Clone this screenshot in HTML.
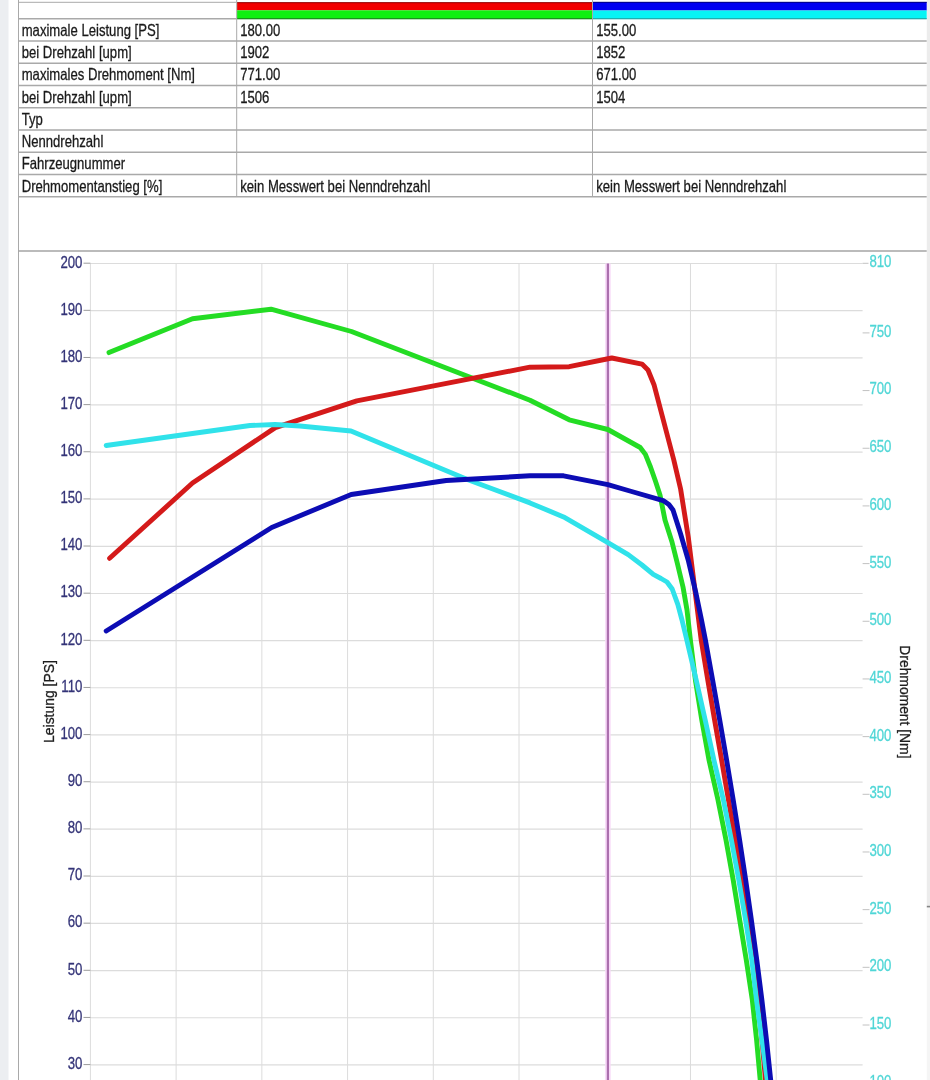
<!DOCTYPE html>
<html><head><meta charset="utf-8"><style>
html,body{margin:0;padding:0;background:#fff;width:930px;height:1080px;overflow:hidden}
svg{display:block;will-change:transform}
text{font-family:"Liberation Sans", sans-serif}
</style></head><body>
<svg width="930" height="1080" viewBox="0 0 930 1080">
<rect x="0" y="0" width="930" height="1080" fill="#fff"/>
<rect x="0" y="0" width="8.5" height="1080" fill="#eceef1"/>
<rect x="926.8" y="0" width="3.2" height="906" fill="#ececec"/>
<rect x="926.8" y="906" width="3.2" height="174" fill="#f5f5f5"/>
<rect x="926.8" y="905.8" width="3.2" height="1.6" fill="#858585"/>

<rect x="237" y="2.5" width="355.5" height="7.8" fill="#f20000"/>
<rect x="237" y="10.3" width="355.5" height="8.6" fill="#10f010"/>
<rect x="237" y="18.1" width="355.5" height="1.2" fill="#1a8a1a"/>
<rect x="593" y="2" width="333.7" height="8.5" fill="#0000f0"/>
<rect x="593" y="10.5" width="333.7" height="8.4" fill="#08f4f4"/>
<rect x="593" y="18.1" width="333.7" height="1.2" fill="#20a8a8"/>
<line x1="18.5" y1="2.3" x2="236.5" y2="2.3" stroke="#a9a9a9" stroke-width="1"/>
<line x1="237" y1="2.7" x2="592.5" y2="2.7" stroke="#900000" stroke-width="1"/>
<line x1="593" y1="2.3" x2="926.7" y2="2.3" stroke="#000080" stroke-width="1"/>
<line x1="18.5" y1="18.70" x2="236.7" y2="18.70" stroke="#a9a9a9" stroke-width="1.5"/>
<line x1="18.5" y1="40.95" x2="926.7" y2="40.95" stroke="#a9a9a9" stroke-width="1.5"/>
<line x1="18.5" y1="63.20" x2="926.7" y2="63.20" stroke="#a9a9a9" stroke-width="1.5"/>
<line x1="18.5" y1="85.45" x2="926.7" y2="85.45" stroke="#a9a9a9" stroke-width="1.5"/>
<line x1="18.5" y1="107.70" x2="926.7" y2="107.70" stroke="#a9a9a9" stroke-width="1.5"/>
<line x1="18.5" y1="129.95" x2="926.7" y2="129.95" stroke="#a9a9a9" stroke-width="1.5"/>
<line x1="18.5" y1="152.20" x2="926.7" y2="152.20" stroke="#a9a9a9" stroke-width="1.5"/>
<line x1="18.5" y1="174.45" x2="926.7" y2="174.45" stroke="#a9a9a9" stroke-width="1.5"/>
<line x1="18.5" y1="196.70" x2="926.7" y2="196.70" stroke="#a9a9a9" stroke-width="1.5"/>
<line x1="18.5" y1="0" x2="18.5" y2="1080" stroke="#a9a9a9" stroke-width="1"/>
<line x1="236.7" y1="0" x2="236.7" y2="196.7" stroke="#a9a9a9" stroke-width="1"/>
<line x1="592.5" y1="0" x2="592.5" y2="196.7" stroke="#a9a9a9" stroke-width="1"/>
<line x1="18.5" y1="251" x2="926.7" y2="251" stroke="#a4a4a4" stroke-width="1.5"/>
<text transform="translate(21.70,35.80) scale(0.795,1)" font-size="16.5" fill="#1a1a1a" stroke="#1a1a1a" stroke-width="0.3" text-anchor="start">maximale Leistung [PS]</text>
<text transform="translate(240.20,35.80) scale(0.795,1)" font-size="16.5" fill="#1a1a1a" stroke="#1a1a1a" stroke-width="0.3" text-anchor="start">180.00</text>
<text transform="translate(596.20,35.80) scale(0.795,1)" font-size="16.5" fill="#1a1a1a" stroke="#1a1a1a" stroke-width="0.3" text-anchor="start">155.00</text>
<text transform="translate(21.70,58.05) scale(0.795,1)" font-size="16.5" fill="#1a1a1a" stroke="#1a1a1a" stroke-width="0.3" text-anchor="start">bei Drehzahl [upm]</text>
<text transform="translate(240.20,58.05) scale(0.795,1)" font-size="16.5" fill="#1a1a1a" stroke="#1a1a1a" stroke-width="0.3" text-anchor="start">1902</text>
<text transform="translate(596.20,58.05) scale(0.795,1)" font-size="16.5" fill="#1a1a1a" stroke="#1a1a1a" stroke-width="0.3" text-anchor="start">1852</text>
<text transform="translate(21.70,80.30) scale(0.795,1)" font-size="16.5" fill="#1a1a1a" stroke="#1a1a1a" stroke-width="0.3" text-anchor="start">maximales Drehmoment [Nm]</text>
<text transform="translate(240.20,80.30) scale(0.795,1)" font-size="16.5" fill="#1a1a1a" stroke="#1a1a1a" stroke-width="0.3" text-anchor="start">771.00</text>
<text transform="translate(596.20,80.30) scale(0.795,1)" font-size="16.5" fill="#1a1a1a" stroke="#1a1a1a" stroke-width="0.3" text-anchor="start">671.00</text>
<text transform="translate(21.70,102.55) scale(0.795,1)" font-size="16.5" fill="#1a1a1a" stroke="#1a1a1a" stroke-width="0.3" text-anchor="start">bei Drehzahl [upm]</text>
<text transform="translate(240.20,102.55) scale(0.795,1)" font-size="16.5" fill="#1a1a1a" stroke="#1a1a1a" stroke-width="0.3" text-anchor="start">1506</text>
<text transform="translate(596.20,102.55) scale(0.795,1)" font-size="16.5" fill="#1a1a1a" stroke="#1a1a1a" stroke-width="0.3" text-anchor="start">1504</text>
<text transform="translate(21.70,124.80) scale(0.795,1)" font-size="16.5" fill="#1a1a1a" stroke="#1a1a1a" stroke-width="0.3" text-anchor="start">Typ</text>
<text transform="translate(21.70,147.05) scale(0.795,1)" font-size="16.5" fill="#1a1a1a" stroke="#1a1a1a" stroke-width="0.3" text-anchor="start">Nenndrehzahl</text>
<text transform="translate(21.70,169.30) scale(0.795,1)" font-size="16.5" fill="#1a1a1a" stroke="#1a1a1a" stroke-width="0.3" text-anchor="start">Fahrzeugnummer</text>
<text transform="translate(21.70,191.55) scale(0.795,1)" font-size="16.5" fill="#1a1a1a" stroke="#1a1a1a" stroke-width="0.3" text-anchor="start">Drehmomentanstieg [%]</text>
<text transform="translate(240.20,191.55) scale(0.795,1)" font-size="16.5" fill="#1a1a1a" stroke="#1a1a1a" stroke-width="0.3" text-anchor="start">kein Messwert bei Nenndrehzahl</text>
<text transform="translate(596.20,191.55) scale(0.795,1)" font-size="16.5" fill="#1a1a1a" stroke="#1a1a1a" stroke-width="0.3" text-anchor="start">kein Messwert bei Nenndrehzahl</text>
<line x1="90.4" y1="263.50" x2="862.6" y2="263.50" stroke="#dcdcdc" stroke-width="1.2"/>
<line x1="90.4" y1="310.64" x2="862.6" y2="310.64" stroke="#dcdcdc" stroke-width="1.2"/>
<line x1="90.4" y1="357.78" x2="862.6" y2="357.78" stroke="#dcdcdc" stroke-width="1.2"/>
<line x1="90.4" y1="404.92" x2="862.6" y2="404.92" stroke="#dcdcdc" stroke-width="1.2"/>
<line x1="90.4" y1="452.06" x2="862.6" y2="452.06" stroke="#dcdcdc" stroke-width="1.2"/>
<line x1="90.4" y1="499.20" x2="862.6" y2="499.20" stroke="#dcdcdc" stroke-width="1.2"/>
<line x1="90.4" y1="546.34" x2="862.6" y2="546.34" stroke="#dcdcdc" stroke-width="1.2"/>
<line x1="90.4" y1="593.48" x2="862.6" y2="593.48" stroke="#dcdcdc" stroke-width="1.2"/>
<line x1="90.4" y1="640.62" x2="862.6" y2="640.62" stroke="#dcdcdc" stroke-width="1.2"/>
<line x1="90.4" y1="687.76" x2="862.6" y2="687.76" stroke="#dcdcdc" stroke-width="1.2"/>
<line x1="90.4" y1="734.90" x2="862.6" y2="734.90" stroke="#dcdcdc" stroke-width="1.2"/>
<line x1="90.4" y1="782.04" x2="862.6" y2="782.04" stroke="#dcdcdc" stroke-width="1.2"/>
<line x1="90.4" y1="829.18" x2="862.6" y2="829.18" stroke="#dcdcdc" stroke-width="1.2"/>
<line x1="90.4" y1="876.32" x2="862.6" y2="876.32" stroke="#dcdcdc" stroke-width="1.2"/>
<line x1="90.4" y1="923.46" x2="862.6" y2="923.46" stroke="#dcdcdc" stroke-width="1.2"/>
<line x1="90.4" y1="970.60" x2="862.6" y2="970.60" stroke="#dcdcdc" stroke-width="1.2"/>
<line x1="90.4" y1="1017.74" x2="862.6" y2="1017.74" stroke="#dcdcdc" stroke-width="1.2"/>
<line x1="90.4" y1="1064.88" x2="862.6" y2="1064.88" stroke="#dcdcdc" stroke-width="1.2"/>
<line x1="90.40" y1="263.2" x2="90.40" y2="1080" stroke="#dcdcdc" stroke-width="1"/>
<line x1="176.12" y1="263.2" x2="176.12" y2="1080" stroke="#dcdcdc" stroke-width="1"/>
<line x1="261.85" y1="263.2" x2="261.85" y2="1080" stroke="#dcdcdc" stroke-width="1"/>
<line x1="347.57" y1="263.2" x2="347.57" y2="1080" stroke="#dcdcdc" stroke-width="1"/>
<line x1="433.30" y1="263.2" x2="433.30" y2="1080" stroke="#dcdcdc" stroke-width="1"/>
<line x1="519.02" y1="263.2" x2="519.02" y2="1080" stroke="#dcdcdc" stroke-width="1"/>
<line x1="690.47" y1="263.2" x2="690.47" y2="1080" stroke="#dcdcdc" stroke-width="1"/>
<line x1="776.20" y1="263.2" x2="776.20" y2="1080" stroke="#dcdcdc" stroke-width="1"/>
<line x1="83.5" y1="263.20" x2="90.4" y2="263.20" stroke="#9c9c9c" stroke-width="1"/>
<text transform="translate(82.40,267.50) scale(0.825,1)" font-size="16" fill="#343478" stroke="#343478" stroke-width="0.3" text-anchor="end">200</text>
<line x1="83.5" y1="310.34" x2="90.4" y2="310.34" stroke="#9c9c9c" stroke-width="1"/>
<text transform="translate(82.40,314.64) scale(0.825,1)" font-size="16" fill="#343478" stroke="#343478" stroke-width="0.3" text-anchor="end">190</text>
<line x1="83.5" y1="357.48" x2="90.4" y2="357.48" stroke="#9c9c9c" stroke-width="1"/>
<text transform="translate(82.40,361.78) scale(0.825,1)" font-size="16" fill="#343478" stroke="#343478" stroke-width="0.3" text-anchor="end">180</text>
<line x1="83.5" y1="404.62" x2="90.4" y2="404.62" stroke="#9c9c9c" stroke-width="1"/>
<text transform="translate(82.40,408.92) scale(0.825,1)" font-size="16" fill="#343478" stroke="#343478" stroke-width="0.3" text-anchor="end">170</text>
<line x1="83.5" y1="451.76" x2="90.4" y2="451.76" stroke="#9c9c9c" stroke-width="1"/>
<text transform="translate(82.40,456.06) scale(0.825,1)" font-size="16" fill="#343478" stroke="#343478" stroke-width="0.3" text-anchor="end">160</text>
<line x1="83.5" y1="498.90" x2="90.4" y2="498.90" stroke="#9c9c9c" stroke-width="1"/>
<text transform="translate(82.40,503.20) scale(0.825,1)" font-size="16" fill="#343478" stroke="#343478" stroke-width="0.3" text-anchor="end">150</text>
<line x1="83.5" y1="546.04" x2="90.4" y2="546.04" stroke="#9c9c9c" stroke-width="1"/>
<text transform="translate(82.40,550.34) scale(0.825,1)" font-size="16" fill="#343478" stroke="#343478" stroke-width="0.3" text-anchor="end">140</text>
<line x1="83.5" y1="593.18" x2="90.4" y2="593.18" stroke="#9c9c9c" stroke-width="1"/>
<text transform="translate(82.40,597.48) scale(0.825,1)" font-size="16" fill="#343478" stroke="#343478" stroke-width="0.3" text-anchor="end">130</text>
<line x1="83.5" y1="640.32" x2="90.4" y2="640.32" stroke="#9c9c9c" stroke-width="1"/>
<text transform="translate(82.40,644.62) scale(0.825,1)" font-size="16" fill="#343478" stroke="#343478" stroke-width="0.3" text-anchor="end">120</text>
<line x1="83.5" y1="687.46" x2="90.4" y2="687.46" stroke="#9c9c9c" stroke-width="1"/>
<text transform="translate(82.40,691.76) scale(0.825,1)" font-size="16" fill="#343478" stroke="#343478" stroke-width="0.3" text-anchor="end">110</text>
<line x1="83.5" y1="734.60" x2="90.4" y2="734.60" stroke="#9c9c9c" stroke-width="1"/>
<text transform="translate(82.40,738.90) scale(0.825,1)" font-size="16" fill="#343478" stroke="#343478" stroke-width="0.3" text-anchor="end">100</text>
<line x1="83.5" y1="781.74" x2="90.4" y2="781.74" stroke="#9c9c9c" stroke-width="1"/>
<text transform="translate(82.40,786.04) scale(0.825,1)" font-size="16" fill="#343478" stroke="#343478" stroke-width="0.3" text-anchor="end">90</text>
<line x1="83.5" y1="828.88" x2="90.4" y2="828.88" stroke="#9c9c9c" stroke-width="1"/>
<text transform="translate(82.40,833.18) scale(0.825,1)" font-size="16" fill="#343478" stroke="#343478" stroke-width="0.3" text-anchor="end">80</text>
<line x1="83.5" y1="876.02" x2="90.4" y2="876.02" stroke="#9c9c9c" stroke-width="1"/>
<text transform="translate(82.40,880.32) scale(0.825,1)" font-size="16" fill="#343478" stroke="#343478" stroke-width="0.3" text-anchor="end">70</text>
<line x1="83.5" y1="923.16" x2="90.4" y2="923.16" stroke="#9c9c9c" stroke-width="1"/>
<text transform="translate(82.40,927.46) scale(0.825,1)" font-size="16" fill="#343478" stroke="#343478" stroke-width="0.3" text-anchor="end">60</text>
<line x1="83.5" y1="970.30" x2="90.4" y2="970.30" stroke="#9c9c9c" stroke-width="1"/>
<text transform="translate(82.40,974.60) scale(0.825,1)" font-size="16" fill="#343478" stroke="#343478" stroke-width="0.3" text-anchor="end">50</text>
<line x1="83.5" y1="1017.44" x2="90.4" y2="1017.44" stroke="#9c9c9c" stroke-width="1"/>
<text transform="translate(82.40,1021.74) scale(0.825,1)" font-size="16" fill="#343478" stroke="#343478" stroke-width="0.3" text-anchor="end">40</text>
<line x1="83.5" y1="1064.58" x2="90.4" y2="1064.58" stroke="#9c9c9c" stroke-width="1"/>
<text transform="translate(82.40,1068.88) scale(0.825,1)" font-size="16" fill="#343478" stroke="#343478" stroke-width="0.3" text-anchor="end">30</text>
<line x1="862.6" y1="263.3" x2="868.5" y2="263.3" stroke="#c2c2c2" stroke-width="1"/>
<text transform="translate(869.40,267.40) scale(0.825,1)" font-size="16" fill="#4fd6d6" stroke="#4fd6d6" stroke-width="0.3" text-anchor="start">810</text>
<line x1="862.6" y1="332.90" x2="869.5" y2="332.90" stroke="#c2c2c2" stroke-width="1"/>
<text transform="translate(869.40,336.80) scale(0.825,1)" font-size="16" fill="#4fd6d6" stroke="#4fd6d6" stroke-width="0.3" text-anchor="start">750</text>
<line x1="862.6" y1="390.57" x2="869.5" y2="390.57" stroke="#c2c2c2" stroke-width="1"/>
<text transform="translate(869.40,394.47) scale(0.825,1)" font-size="16" fill="#4fd6d6" stroke="#4fd6d6" stroke-width="0.3" text-anchor="start">700</text>
<line x1="862.6" y1="448.25" x2="869.5" y2="448.25" stroke="#c2c2c2" stroke-width="1"/>
<text transform="translate(869.40,452.15) scale(0.825,1)" font-size="16" fill="#4fd6d6" stroke="#4fd6d6" stroke-width="0.3" text-anchor="start">650</text>
<line x1="862.6" y1="505.92" x2="869.5" y2="505.92" stroke="#c2c2c2" stroke-width="1"/>
<text transform="translate(869.40,509.82) scale(0.825,1)" font-size="16" fill="#4fd6d6" stroke="#4fd6d6" stroke-width="0.3" text-anchor="start">600</text>
<line x1="862.6" y1="563.60" x2="869.5" y2="563.60" stroke="#c2c2c2" stroke-width="1"/>
<text transform="translate(869.40,567.50) scale(0.825,1)" font-size="16" fill="#4fd6d6" stroke="#4fd6d6" stroke-width="0.3" text-anchor="start">550</text>
<line x1="862.6" y1="621.27" x2="869.5" y2="621.27" stroke="#c2c2c2" stroke-width="1"/>
<text transform="translate(869.40,625.17) scale(0.825,1)" font-size="16" fill="#4fd6d6" stroke="#4fd6d6" stroke-width="0.3" text-anchor="start">500</text>
<line x1="862.6" y1="678.95" x2="869.5" y2="678.95" stroke="#c2c2c2" stroke-width="1"/>
<text transform="translate(869.40,682.85) scale(0.825,1)" font-size="16" fill="#4fd6d6" stroke="#4fd6d6" stroke-width="0.3" text-anchor="start">450</text>
<line x1="862.6" y1="736.62" x2="869.5" y2="736.62" stroke="#c2c2c2" stroke-width="1"/>
<text transform="translate(869.40,740.52) scale(0.825,1)" font-size="16" fill="#4fd6d6" stroke="#4fd6d6" stroke-width="0.3" text-anchor="start">400</text>
<line x1="862.6" y1="794.30" x2="869.5" y2="794.30" stroke="#c2c2c2" stroke-width="1"/>
<text transform="translate(869.40,798.20) scale(0.825,1)" font-size="16" fill="#4fd6d6" stroke="#4fd6d6" stroke-width="0.3" text-anchor="start">350</text>
<line x1="862.6" y1="851.97" x2="869.5" y2="851.97" stroke="#c2c2c2" stroke-width="1"/>
<text transform="translate(869.40,855.87) scale(0.825,1)" font-size="16" fill="#4fd6d6" stroke="#4fd6d6" stroke-width="0.3" text-anchor="start">300</text>
<line x1="862.6" y1="909.65" x2="869.5" y2="909.65" stroke="#c2c2c2" stroke-width="1"/>
<text transform="translate(869.40,913.55) scale(0.825,1)" font-size="16" fill="#4fd6d6" stroke="#4fd6d6" stroke-width="0.3" text-anchor="start">250</text>
<line x1="862.6" y1="967.32" x2="869.5" y2="967.32" stroke="#c2c2c2" stroke-width="1"/>
<text transform="translate(869.40,971.22) scale(0.825,1)" font-size="16" fill="#4fd6d6" stroke="#4fd6d6" stroke-width="0.3" text-anchor="start">200</text>
<line x1="862.6" y1="1025.00" x2="869.5" y2="1025.00" stroke="#c2c2c2" stroke-width="1"/>
<text transform="translate(869.40,1028.90) scale(0.825,1)" font-size="16" fill="#4fd6d6" stroke="#4fd6d6" stroke-width="0.3" text-anchor="start">150</text>
<line x1="862.6" y1="1082.67" x2="869.5" y2="1082.67" stroke="#c2c2c2" stroke-width="1"/>
<text transform="translate(869.40,1086.58) scale(0.825,1)" font-size="16" fill="#4fd6d6" stroke="#4fd6d6" stroke-width="0.3" text-anchor="start">100</text>
<text transform="translate(53.6,701.5) rotate(-90) scale(0.9,1)" font-size="15.5" fill="#1e1e1e" stroke="#1e1e1e" stroke-width="0.3" text-anchor="middle">Leistung [PS]</text>
<text transform="translate(900.1,701.9) rotate(90) scale(0.895,1)" font-size="15.5" fill="#1e1e1e" stroke="#1e1e1e" stroke-width="0.3" text-anchor="middle">Drehmoment [Nm]</text>
<line x1="607.9" y1="263.4" x2="607.9" y2="1080" stroke="#f8d8f8" stroke-width="5.5"/>
<line x1="607.9" y1="263.4" x2="607.9" y2="1080" stroke="#ab70ae" stroke-width="2.2"/>
<polyline points="109,352.6 192.5,318.7 271,309.2 351.5,331.5 530,400.2 569.2,419.8 607.9,429.5 640.2,447.5 645.4,454.4 650.5,467 655.5,481.3 660,495 665,520 672,542 677.5,564 683,587 687,610 690.4,640 695.4,680 701.8,720 709,760 718,800 726,840 733.2,880 739.7,920 746.3,960 752.3,1000 756.6,1040 760.2,1080" fill="none" stroke="#24dc24" stroke-width="4.9" stroke-linejoin="round" stroke-linecap="round"/>
<polyline points="109.6,558.3 192.5,483 275.3,427.6 356.8,400.8 435,385.7 530,367.2 569.2,366.7 611.8,358 642,364.1 648,370 654,384.7 667.5,436 673.8,460 680.6,489 688.3,537.4 701.2,640 707.8,680 714.6,720 721.6,760 728.5,800 735.3,840 741.7,880 747.7,920 753.1,960 758,1000 762,1040 765.5,1080" fill="none" stroke="#d41a1a" stroke-width="4.9" stroke-linejoin="round" stroke-linecap="round"/>
<polyline points="106.2,445.5 250,425.5 275,424.5 300,426 351,431 468.6,480 530,502.9 563.6,516.9 607.9,542.6 628.2,554.6 642,565 653.3,574.4 661,578.5 667,582 672.2,589 677.8,604.4 682,620 686.8,640 696.2,680 705.2,720 713.9,760 723.4,800 731.4,840 738.8,880 745.6,920 751.8,960 756.5,1000 762,1040 767.2,1080" fill="none" stroke="#30e2ea" stroke-width="4.9" stroke-linejoin="round" stroke-linecap="round"/>
<polyline points="106.2,631 271.7,527.5 351.2,494.5 446.2,480.5 530,475.8 563.6,475.8 607.9,484.6 629.9,491 663.2,500.6 668.9,504.5 673,510 680.5,533.5 688.2,560 692.9,580 696,593.4 701.5,620 705.4,640 712.6,680 719.7,720 726.6,760 733.2,800 739.6,840 745.7,880 751.4,920 756.8,960 761.9,1000 766.5,1040 770.7,1080" fill="none" stroke="#0c0cb4" stroke-width="4.9" stroke-linejoin="round" stroke-linecap="round"/>
</svg></body></html>
